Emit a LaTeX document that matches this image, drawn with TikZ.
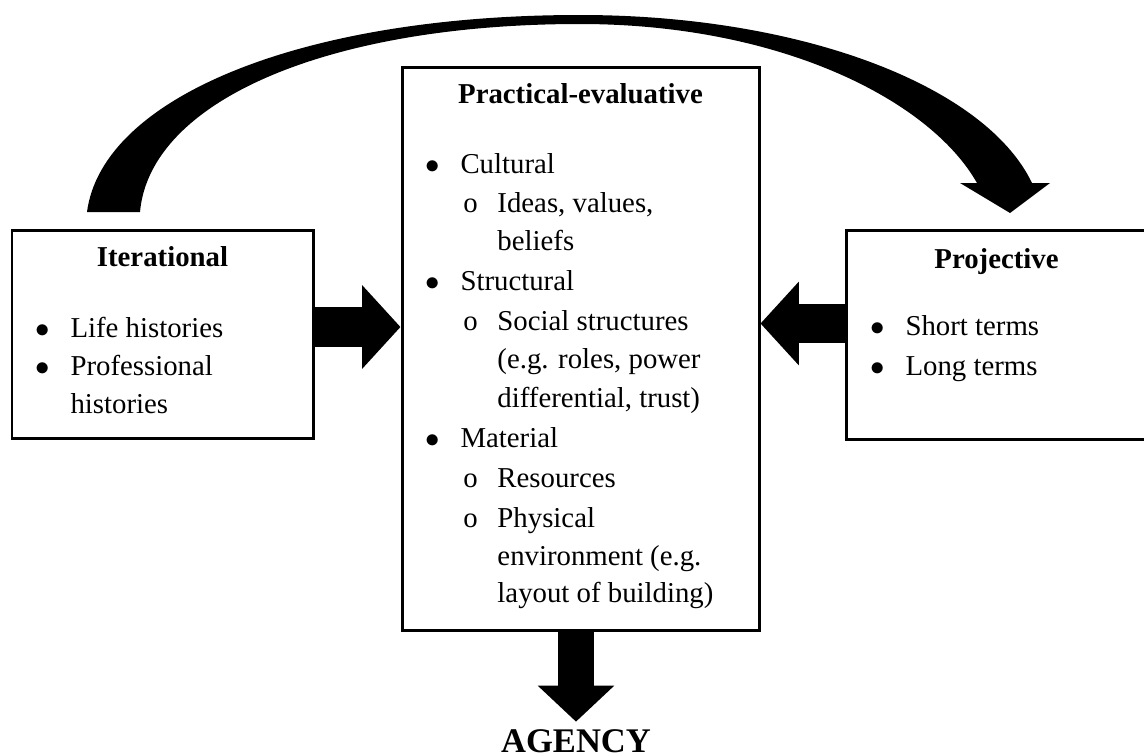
\documentclass[tikz,border=0pt]{standalone}
\usepackage{fontspec}
\setmainfont{Liberation Serif}
\usetikzlibrary{arrows.meta}
\usetikzlibrary{calc}
\usetikzlibrary{fit}

\begin{document}
\begin{tikzpicture}[x=0.4167pt, y=-0.4167pt,
  every node/.style={font=\fontsize{12pt}{14pt}\selectfont},
  panel/.style={draw, line width=1.25pt, inner sep=0pt},
  head/.style={anchor=base, font=\fontsize{12pt}{14pt}\selectfont\bfseries},
  line/.style={anchor=base west, inner sep=0pt},
  bul/.style={line, execute at begin node={\makebox[14.6pt][l]{$\bullet$}}},
  sub/.style={line, xshift=15.8pt, execute at begin node={\makebox[14.2pt][l]{o}}},
  cont1/.style={line, xshift=14.6pt},
  cont2/.style={line, xshift=30pt},
  blockarrow/.style={line width=16.5pt, -{Triangle[length=16pt, width=34pt]}}]

\useasboundingbox (0,0) rectangle (1144,756);

% First, the three boxes
\node[panel, fit={(12,230) (313,438)}] (iter) {};
\node[panel, fit={(402,67) (759,630)}] (prac) {};
\node[panel, fit={(846,230) (1147,439)}] (proj) {};

% Headings, one blank line above the lists
\node[head] at ($(iter.north)+(0,38)$) {Iterational};
\node[head] at ($(prac.north)+(0,38)$) {Practical-evaluative};
\node[head] at ($(proj.north)+(0,40)$) {Projective};

% Lists, line by line
\foreach \k/\y/\t in {bul/337/Life histories, bul/375/Professional, cont1/413/histories}
  \node[\k] at (35,\y) {\t};
\foreach \k/\y/\t in {bul/335/Short terms, bul/375/Long terms}
  \node[\k] at (870,\y) {\t};
\foreach \k/\y/\t in {bul/173/Cultural, sub/212/{Ideas, values,}, cont2/250/beliefs,
    bul/290/Structural, sub/330/Social structures, cont2/368/{(e.g. roles, power},
    cont2/407/{differential, trust)}, bul/447/Material, sub/487/Resources,
    sub/527/Physical, cont2/565/{environment (e.g.}, cont2/602/{layout of building)}}
  \node[\k] at (425,\y) {\t};

% Outcome
\node[anchor=base, inner ysep=2.9pt, font=\fontsize{14.4pt}{16pt}\selectfont\bfseries] (agency) at (576,752) {AGENCY};

% Block arrows into the middle box and down to agency
\coordinate (a1) at ($(iter.east)+(0,-7)$);
\coordinate (a2) at ($(proj.west)+(0,-11)$);
\draw[blockarrow] (a1) -- (a1 -| prac.west);
\draw[blockarrow, line width=16.2pt] (a2) -- (a2 -| prac.east);
\draw[line width=15pt, -{Triangle[length=15pt, width=31pt]}] (prac.south -| agency.north) -- (agency.north);

% Tapered curved arrow from iterational over to projective
\fill (87,212) .. controls (102,98) and (300,15) .. (580,15)
  .. controls (800,15) and (985,85) .. (1032,183)
  -- (1050,183) -- (1010,213) -- (960,183) -- (977,183)
  .. controls (930,100) and (780,24) .. (580,24)
  .. controls (330,24) and (150,100) .. (140,212) -- cycle;
\end{tikzpicture}
\end{document}
